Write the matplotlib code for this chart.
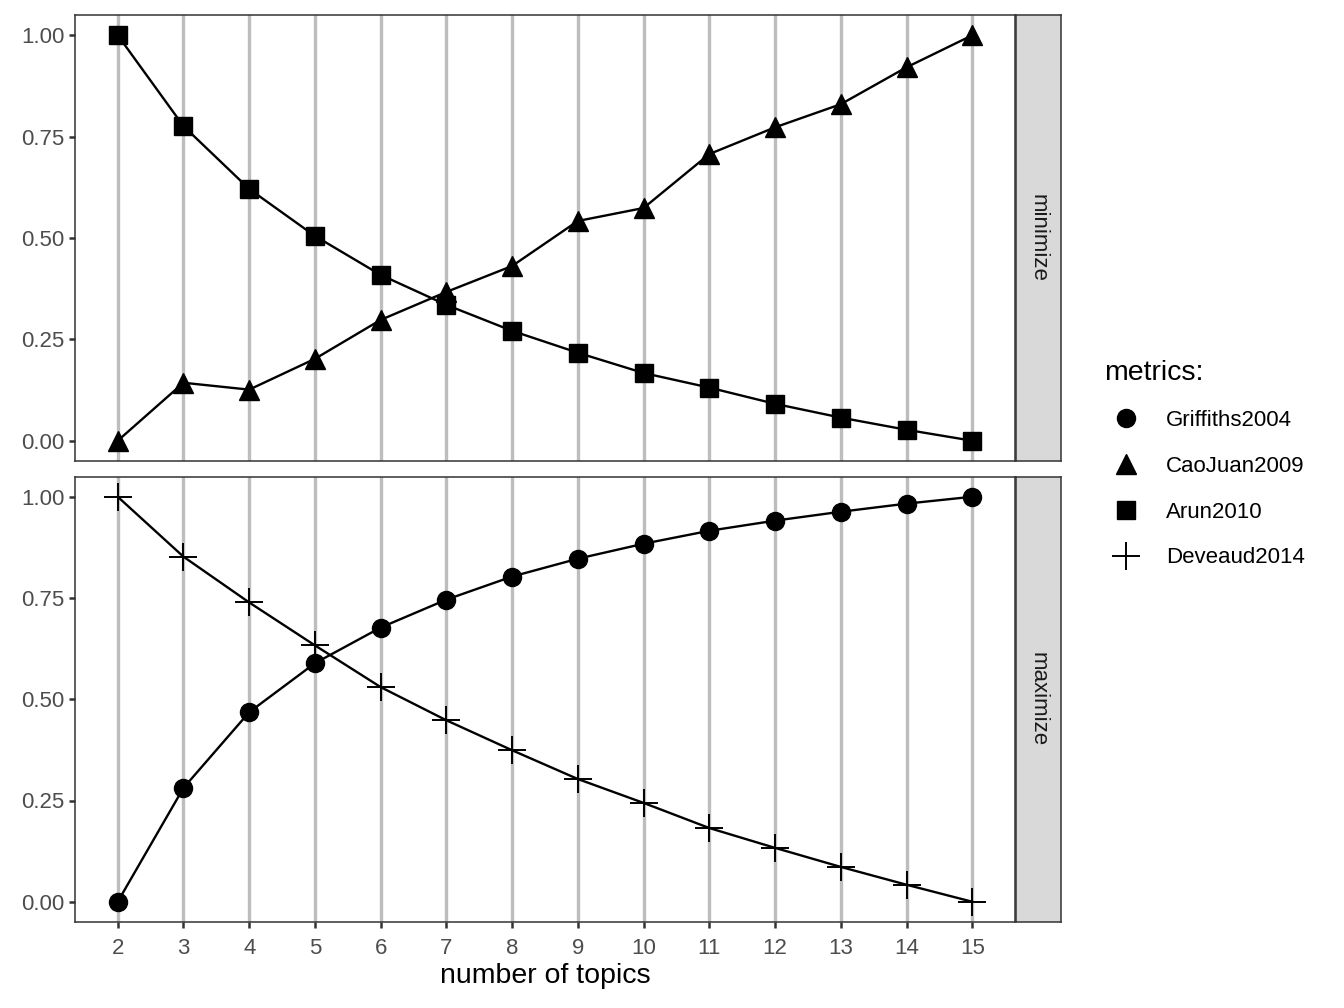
import matplotlib
matplotlib.use("Agg")
import matplotlib.pyplot as plt
from matplotlib.lines import Line2D

plt.rcParams['font.family'] = ['Liberation Sans', 'DejaVu Sans']

topics = list(range(2, 16))
griffiths2004 = [0.0, 0.281, 0.468, 0.589, 0.677, 0.746, 0.803, 0.847, 0.884, 0.916, 0.941, 0.963, 0.983, 1.0]
caojuan2009 = [0.0, 0.143, 0.126, 0.202, 0.298, 0.367, 0.431, 0.542, 0.574, 0.707, 0.773, 0.830, 0.921, 1.0]
arun2010 = [1.0, 0.776, 0.621, 0.505, 0.409, 0.335, 0.271, 0.217, 0.167, 0.131, 0.091, 0.057, 0.027, 0.0]
deveaud2014 = [1.0, 0.852, 0.739, 0.633, 0.530, 0.448, 0.374, 0.303, 0.244, 0.182, 0.133, 0.086, 0.042, 0.0]
yticks = [0.0, 0.25, 0.5, 0.75, 1.0]
ytick_labels = ["0.00", "0.25", "0.50", "0.75", "1.00"]
panels = ["minimize", "maximize"]

W, H = 1344, 1008
fig = plt.figure(figsize=(W / 100, H / 100), dpi=100)

def frac(l, t, r, b):
    return [l / W, (H - b) / H, (r - l) / W, (b - t) / H]

ax_top = fig.add_axes(frac(75, 15, 1015, 461))
ax_bot = fig.add_axes(frac(75, 476.5, 1015, 922))
strip_top = fig.add_axes(frac(1016, 15, 1061, 461))
strip_bot = fig.add_axes(frac(1016, 476.5, 1061, 922))

border = '#333333'
tickcol = '#4D4D4D'
styles = {
    'Griffiths2004': dict(marker='o', ms=13, mfc='black', mec='black'),
    'CaoJuan2009': dict(marker='^', ms=15, mfc='black', mec='black'),
    'Arun2010': dict(marker='s', ms=13, mfc='black', mec='black'),
    'Deveaud2014': dict(marker='+', ms=20, mew=1.4, mfc='black', mec='black'),
}

for ax in (ax_top, ax_bot):
    ax.set_xlim(1.35, 15.65)
    ax.set_ylim(-0.05, 1.05)
    ax.set_xticks(topics)
    ax.set_yticks(yticks)
    ax.set_yticklabels(ytick_labels)
    for x in topics:
        ax.axvline(x, color='#BDBDBD', lw=2.4, zorder=0)
    for s in ax.spines.values():
        s.set_color(border)
        s.set_linewidth(1.1)
    ax.tick_params(axis='both', colors=border, labelcolor=tickcol, labelsize=16,
                   length=4, width=1.8, pad=3.5)
    ax.tick_params(axis='x', pad=7.5)

ax_top.tick_params(axis='x', labelbottom=False, bottom=False)

ax_top.plot(topics, caojuan2009, color='black', lw=1.7, **styles['CaoJuan2009'])
ax_top.plot(topics, arun2010, color='black', lw=1.7, **styles['Arun2010'])
ax_bot.plot(topics, griffiths2004, color='black', lw=1.7, **styles['Griffiths2004'])
ax_bot.plot(topics, deveaud2014, color='black', lw=1.7, **styles['Deveaud2014'])

ax_bot.set_xlabel('number of topics', fontsize=20.5, color='black', labelpad=3)

for sax, name in ((strip_top, panels[0]), (strip_bot, panels[1])):
    sax.set_facecolor('#D9D9D9')
    sax.set_xticks([])
    sax.set_yticks([])
    for s in sax.spines.values():
        s.set_color(border)
        s.set_linewidth(1.1)
    sax.text(0.5, 0.5, name, rotation=270, ha='center', va='center',
             fontsize=16, color='#1A1A1A', transform=sax.transAxes)

handles = [Line2D([], [], linestyle='none', **styles[k]) for k in
           ['Griffiths2004', 'CaoJuan2009', 'Arun2010', 'Deveaud2014']]
leg = fig.legend(handles, ['Griffiths2004', 'CaoJuan2009', 'Arun2010', 'Deveaud2014'],
                 title='metrics:', loc='upper left', bbox_to_anchor=(1093 / W, 1 - 349 / H),
                 frameon=False, fontsize=16, title_fontsize=20.5, handlelength=2.0,
                 handletextpad=0.8, labelspacing=1.12, borderpad=0)
leg._legend_box.align = 'left'
leg._legend_box.sep = 17

fig.savefig('out.png', dpi=100)
